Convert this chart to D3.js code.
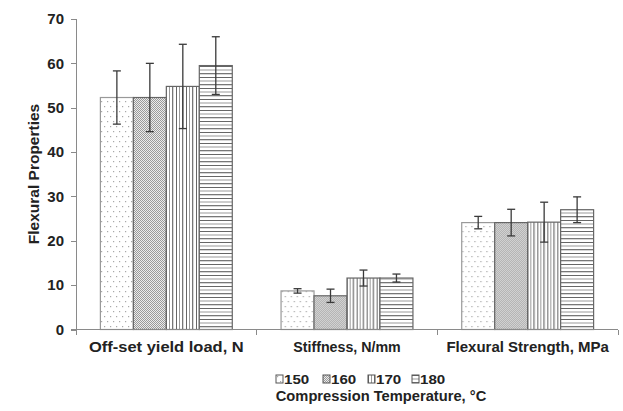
<!DOCTYPE html>
<head>
<meta charset="utf-8">
<script src="https://d3js.org/d3.v7.min.js"></script>
<style>
  body { margin: 0; background: #fff; font-family: Arial, "Liberation Sans", sans-serif; }
  .tick text { font: bold 15px Arial, "Liberation Sans", sans-serif; fill: #222; }
  .axis path, .axis line { stroke: #8a8a8a; shape-rendering: crispEdges; }
  .lbl { font: bold 15px Arial, "Liberation Sans", sans-serif; fill: #222; }
</style>
</head>
<body>
<div id="chart"></div>
<script>
// data
var categories = ["Off-set yield load, N", "Stiffness, N/mm", "Flexural Strength, MPa"];
var series = ["150", "160", "170", "180"];
var v150 = [52.3, 8.7, 24.1];
var v160 = [52.3, 7.6, 24.1];
var v170 = [54.8, 11.6, 24.2];
var v180 = [59.5, 11.6, 27.0];
var e150 = [6.0, 0.5, 1.4];
var e160 = [7.7, 1.5, 3.0];
var e170 = [9.5, 1.8, 4.5];
var e180 = [6.5, 0.9, 2.9];
var yTicks = [0, 10, 20, 30, 40, 50, 60, 70];

var values = [v150, v160, v170, v180];
var errors = [e150, e160, e170, e180];

var W = 623, H = 411;
var svg = d3.select("#chart").append("svg").attr("width", W).attr("height", H);

// patterns
var defs = svg.append("defs");
var p0 = defs.append("pattern").attr("id", "pat0").attr("patternUnits", "userSpaceOnUse")
  .attr("width", 6).attr("height", 10);
p0.append("rect").attr("width", 6).attr("height", 10).attr("fill", "#fff");
p0.append("rect").attr("x", 1).attr("y", 1).attr("width", 1.2).attr("height", 1.2).attr("fill", "#a8a8a8");
p0.append("rect").attr("x", 4).attr("y", 6).attr("width", 1.2).attr("height", 1.2).attr("fill", "#a8a8a8");

var p1 = defs.append("pattern").attr("id", "pat1").attr("patternUnits", "userSpaceOnUse")
  .attr("width", 2).attr("height", 2);
p1.append("rect").attr("width", 2).attr("height", 2).attr("fill", "#ececec");
p1.append("rect").attr("x", 0).attr("y", 0).attr("width", 1).attr("height", 1).attr("fill", "#9a9a9a");
p1.append("rect").attr("x", 1).attr("y", 1).attr("width", 1).attr("height", 1).attr("fill", "#9a9a9a");

var p2 = defs.append("pattern").attr("id", "pat2").attr("patternUnits", "userSpaceOnUse")
  .attr("width", 10).attr("height", 10);
p2.append("rect").attr("width", 10).attr("height", 10).attr("fill", "#fff");
p2.append("rect").attr("x", 0).attr("width", 1).attr("height", 10).attr("fill", "#666");
p2.append("rect").attr("x", 3).attr("width", 1).attr("height", 10).attr("fill", "#999");
p2.append("rect").attr("x", 6).attr("width", 1.3).attr("height", 10).attr("fill", "#777");

var p3 = defs.append("pattern").attr("id", "pat3").attr("patternUnits", "userSpaceOnUse")
  .attr("width", 10).attr("height", 11);
p3.append("rect").attr("width", 10).attr("height", 11).attr("fill", "#fff");
p3.append("rect").attr("y", 0).attr("width", 10).attr("height", 1).attr("fill", "#666");
p3.append("rect").attr("y", 3.5).attr("width", 10).attr("height", 1).attr("fill", "#999");
p3.append("rect").attr("y", 7).attr("width", 10).attr("height", 1.3).attr("fill", "#777");

var x0 = d3.scaleBand().domain(categories).range([76, 618]).padding(0);
var x1 = d3.scaleBand().domain(series)
  .range([x0.bandwidth() * 0.135, x0.bandwidth() * 0.865]).padding(0);
var y = d3.scaleLinear().domain([0, 70]).range([329.5, 19]);

// y axis
svg.append("g").attr("class", "axis")
  .attr("transform", "translate(76,0)")
  .call(d3.axisLeft(y).tickValues(yTicks).tickSize(5).tickPadding(7).tickFormat(d3.format("d")))
  .call(function(g) { g.select(".domain").attr("d", "M0," + y(70) + "V" + y(0)); });

// bars
var groups = svg.append("g").selectAll("g")
  .data(categories).enter().append("g")
  .attr("transform", function(d) { return "translate(" + x0(d) + ",0)"; });

groups.selectAll("rect")
  .data(function(d, i) { return series.map(function(s, j) { return {s: s, j: j, v: values[j][i], e: errors[j][i]}; }); })
  .enter().append("rect")
    .attr("x", function(d) { return x1(d.s); })
    .attr("y", function(d) { return y(d.v); })
    .attr("width", x1.bandwidth())
    .attr("height", function(d) { return y(0) - y(d.v); })
    .attr("fill", function(d) { return "url(#pat" + d.j + ")"; })
    .attr("stroke", function(d) { return d.j == 0 ? "#999" : "#666"; })
    .attr("stroke-width", 1.2);

// error bars
var eb = groups.selectAll("g.err")
  .data(function(d, i) { return series.map(function(s, j) { return {s: s, v: values[j][i], e: errors[j][i]}; }); })
  .enter().append("g").attr("class", "err")
  .attr("stroke", "#3a3a3a").attr("stroke-width", 1.3);
eb.append("line")
  .attr("x1", function(d) { return x1(d.s) + x1.bandwidth() / 2; })
  .attr("x2", function(d) { return x1(d.s) + x1.bandwidth() / 2; })
  .attr("y1", function(d) { return y(d.v + d.e); })
  .attr("y2", function(d) { return y(d.v - d.e); });
[1, -1].forEach(function(sg) {
  eb.append("line")
    .attr("x1", function(d) { return x1(d.s) + x1.bandwidth() / 2 - 4; })
    .attr("x2", function(d) { return x1(d.s) + x1.bandwidth() / 2 + 4; })
    .attr("y1", function(d) { return y(d.v + sg * d.e); })
    .attr("y2", function(d) { return y(d.v + sg * d.e); });
});

// x axis
var xa = svg.append("g").attr("class", "axis");
xa.append("line").attr("x1", 71).attr("x2", 618).attr("y1", y(0)).attr("y2", y(0));
xa.selectAll("line.tk").data(categories.concat(["end"])).enter().append("line")
  .attr("class", "tk")
  .attr("x1", function(d, i) { return 76 + i * x0.bandwidth(); })
  .attr("x2", function(d, i) { return 76 + i * x0.bandwidth(); })
  .attr("y1", y(0)).attr("y2", y(0) + 5);

var catScale = [1.1, 0.95, 1.0];
svg.append("g").selectAll("text").data(categories).enter().append("text")
  .attr("class", "lbl")
  .attr("transform", function(d, i) {
    return "translate(" + (x0(d) + x0.bandwidth() / 2) + ",352) scale(" + catScale[i] + ",1)";
  })
  .attr("text-anchor", "middle")
  .text(function(d) { return d; });

// y title
svg.append("text")
  .attr("class", "lbl")
  .attr("transform", "translate(39,174) rotate(-90)")
  .attr("text-anchor", "middle")
  .style("font-size", "15.5px")
  .text("Flexural Properties");

// legend
var legX = [276, 323, 368, 412];
var leg = svg.append("g").selectAll("g").data(series).enter().append("g")
  .attr("transform", function(d, i) { return "translate(" + legX[i] + ",375)"; });
leg.append("rect").attr("width", 7).attr("height", 8)
  .attr("fill", function(d, i) { return "url(#pat" + i + ")"; })
  .attr("stroke", "#555").attr("stroke-width", 1);
leg.append("text").attr("class", "lbl")
  .attr("transform", "translate(8,8.5) scale(1.12,1)")
  .style("font-size", "13.5px")
  .text(function(d) { return d; });

svg.append("text")
  .attr("class", "lbl")
  .attr("transform", "translate(381,401) scale(1.05,1)")
  .attr("text-anchor", "middle")
  .style("font-size", "14px")
  .text("Compression Temperature, \u00b0C");
</script>
</body>
